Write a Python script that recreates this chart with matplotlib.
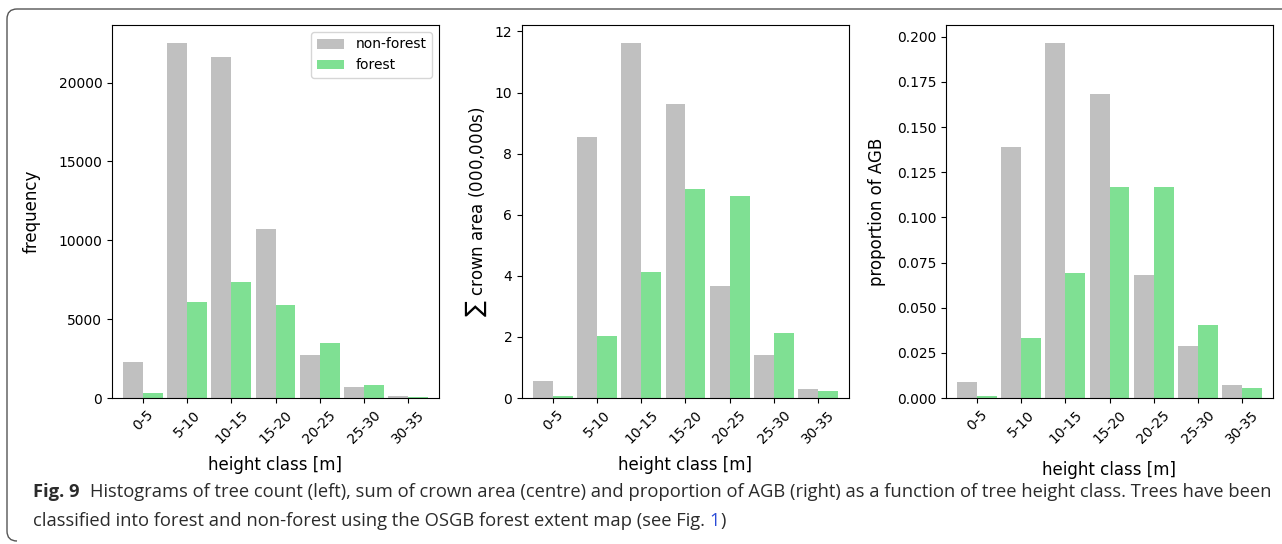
import matplotlib
matplotlib.use('Agg')
import matplotlib.pyplot as plt
from matplotlib.path import Path
from matplotlib.patches import PathPatch
from matplotlib.transforms import IdentityTransform
import numpy as np

# height classes (x axis)
classes = ['0-5', '5-10', '10-15', '15-20', '20-25', '25-30', '30-35']

# left: tree count
count_nonforest = [2270, 22520, 21630, 10710, 2710, 700, 100]
count_forest = [300, 6070, 7340, 5880, 3470, 800, 90]

# centre: sum of crown area (000,000s)
crown_nonforest = [0.55, 8.55, 11.63, 9.63, 3.66, 1.40, 0.28]
crown_forest = [0.05, 2.02, 4.12, 6.84, 6.61, 2.12, 0.22]

# right: proportion of AGB
agb_nonforest = [0.0087, 0.139, 0.1967, 0.1684, 0.068, 0.0287, 0.0070]
agb_forest = [0.0009, 0.0331, 0.0691, 0.1168, 0.1168, 0.0403, 0.0054]

grey = '#c0c0c0'
green = '#7fe093'
W, H = 1282, 544

fig = plt.figure(figsize=(W / 100, H / 100), dpi=100)

# page frame: top + left edge with rounded corners (pixel coords, origin bottom-left)
r = 10
verts = [(W + 5, H - 9), (7 + r, H - 9), (7, H - 9), (7, H - 9 - r),
         (7, 3 + r), (7, 3), (7 + r, 3)]
codes = [Path.MOVETO, Path.LINETO, Path.CURVE3, Path.CURVE3,
         Path.LINETO, Path.CURVE3, Path.CURVE3]
fig.patches.append(PathPatch(Path(verts, codes), transform=IdentityTransform(),
                             facecolor='none', edgecolor='#555555', linewidth=1.0))

x = np.arange(len(classes))
w = 0.45

panels = [
    (112, count_nonforest, count_forest, 'frequency', 13, 7),
    (522, crown_nonforest, crown_forest, r'$\sum$ crown area (000,000s)', 4, 7),
    (946, agb_nonforest, agb_forest, 'proportion of AGB', 8, 11),
]

axes = []
for left, nf, f, ylab, ypad, xpad in panels:
    ax = fig.add_axes([left / W, (H - 398) / H, 327 / W, (398 - 25) / H])
    ax.bar(x - w / 2, nf, w, color=grey, label='non-forest')
    ax.bar(x + w / 2, f, w, color=green, label='forest')
    ax.set_xlim(-0.7, 6.7)
    ax.set_xticks(x)
    ax.set_xticklabels(classes, rotation=45, fontsize=10)
    ax.tick_params(axis='y', labelsize=10)
    ax.set_xlabel('height class [m]', fontsize=12, labelpad=xpad)
    ax.set_ylabel(ylab, fontsize=12, labelpad=ypad)
    axes.append(ax)

axes[0].legend(loc='upper right', fontsize=10)

# caption
cap_font = ['Open Sans', 'DejaVu Sans']
cap_size = 13.2
cap_col = '#2b2b2b'
renderer = fig.canvas.get_renderer()


def put_line(pieces, x0, y):
    xx = x0
    for s, weight, col, gap in pieces:
        t = fig.text(xx, y, s, fontsize=cap_size, fontweight=weight, color=col,
                     family=cap_font, ha='left', va='baseline')
        bb = t.get_window_extent(renderer)
        xx += (bb.width + gap) / W


put_line([('Fig. 9', 'bold', cap_col, 10),
          ('Histograms of tree count (left), sum of crown area (centre) and proportion of AGB '
           '(right) as a function of tree height class. Trees have been', 'normal', cap_col, 0)],
         33 / W, (H - 497) / H)
put_line([('classified into forest and non-forest using the OSGB forest extent map (see Fig.', 'normal', cap_col, 4),
          ('1', 'normal', '#2a4bd7', 1),
          (')', 'normal', cap_col, 0)],
         33 / W, (H - 526) / H)

fig.savefig('out.png', dpi=100)
